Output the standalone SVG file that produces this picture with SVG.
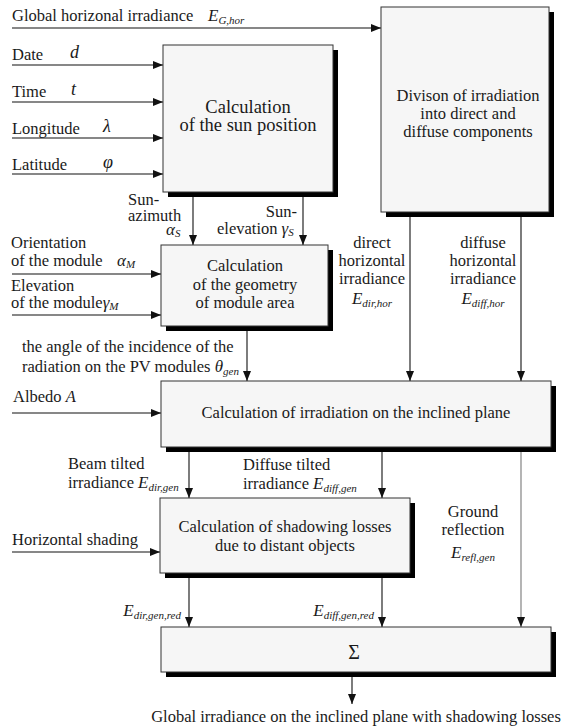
<svg xmlns="http://www.w3.org/2000/svg" width="566" height="728" viewBox="0 0 566 728">
<defs>
<marker id="ah" markerWidth="10" markerHeight="8" refX="10" refY="4" orient="auto" markerUnits="userSpaceOnUse">
<path d="M0,0 L10,4 L0,8 z" fill="#111"/>
</marker>
<style>
text{font-family:"Liberation Serif","Times New Roman",serif;fill:#1a1a1a;font-size:16.5px}
.c{text-anchor:middle}
.e{text-anchor:end}
.i{font-style:italic}
.big{font-size:18.5px}
.sub{font-size:11px;font-style:italic}
.box{fill:#f6f6f6;stroke:#333;stroke-width:1}
.sh{fill:#000}
.ln{stroke:#111;stroke-width:1.1;fill:none}
.gl{stroke:#777;stroke-width:1.1;fill:none}
</style>
</defs>
<rect width="566" height="728" fill="#fff"/>

<g id="connectors">
<line class="ln" x1="12" y1="28" x2="381" y2="28" marker-end="url(#ah)"/>
<line class="ln" x1="12" y1="65" x2="163" y2="65" marker-end="url(#ah)"/>
<line class="ln" x1="12" y1="102" x2="163" y2="102" marker-end="url(#ah)"/>
<line class="ln" x1="12" y1="138" x2="163" y2="138" marker-end="url(#ah)"/>
<line class="ln" x1="12" y1="174" x2="163" y2="174" marker-end="url(#ah)"/>
<line class="ln" x1="193" y1="197" x2="193" y2="245" marker-end="url(#ah)"/>
<line class="ln" x1="303" y1="197" x2="303" y2="245" marker-end="url(#ah)"/>
<line class="ln" x1="12" y1="274" x2="161" y2="274" marker-end="url(#ah)"/>
<line class="ln" x1="12" y1="315" x2="161" y2="315" marker-end="url(#ah)"/>
<line class="ln" x1="410" y1="217" x2="410" y2="381" marker-end="url(#ah)"/>
<line class="ln" x1="521" y1="217" x2="521" y2="381" marker-end="url(#ah)"/>
<line class="ln" x1="247" y1="331" x2="247" y2="381" marker-end="url(#ah)"/>
<line class="ln" x1="12" y1="413" x2="161" y2="413" marker-end="url(#ah)"/>
<line class="ln" x1="189" y1="452" x2="189" y2="498" marker-end="url(#ah)"/>
<line class="ln" x1="382" y1="452" x2="382" y2="498" marker-end="url(#ah)"/>
<line class="gl" x1="521" y1="452" x2="521" y2="627" marker-end="url(#ah)"/>
<line class="ln" x1="12" y1="552" x2="160" y2="552" marker-end="url(#ah)"/>
<line class="ln" x1="189" y1="578" x2="189" y2="627" marker-end="url(#ah)"/>
<line class="ln" x1="382" y1="578" x2="382" y2="627" marker-end="url(#ah)"/>
<line class="ln" x1="352" y1="677" x2="352" y2="704" marker-end="url(#ah)"/>
</g>

<g id="sun-position">
<rect class="sh" x="168" y="50" width="170" height="147"/>
<rect class="box" x="163" y="45" width="170" height="147"/>
<text class="c big" x="248" y="113">Calculation</text>
<text class="c big" x="248" y="131">of the sun position</text>
</g>

<g id="division">
<rect class="sh" x="386" y="12" width="168" height="205"/>
<rect class="box" x="381" y="7" width="168" height="205"/>
<text class="c" x="468" y="101">Divison of irradiation</text>
<text class="c" x="468" y="119">into direct and</text>
<text class="c" x="468" y="137">diffuse components</text>
</g>

<g id="geometry">
<rect class="sh" x="166" y="250" width="167" height="81"/>
<rect class="box" x="161" y="245" width="167" height="81"/>
<text class="c" x="245" y="271">Calculation</text>
<text class="c" x="245" y="290">of the geometry</text>
<text class="c" x="245" y="308">of module area</text>
</g>

<g id="inclined">
<rect class="sh" x="166" y="386" width="390" height="66"/>
<rect class="box" x="161" y="381" width="390" height="66"/>
<text class="c" x="356" y="418">Calculation of irradiation on the inclined plane</text>
</g>

<g id="shading">
<rect class="sh" x="165" y="503" width="250" height="75"/>
<rect class="box" x="160" y="498" width="250" height="75"/>
<text class="c" x="285" y="532">Calculation of shadowing losses</text>
<text class="c" x="285" y="551">due to distant objects</text>
</g>

<g id="sum">
<rect class="sh" x="166" y="632" width="390" height="45"/>
<rect class="box" x="161" y="627" width="390" height="45"/>
<text class="c" x="354" y="659" style="font-size:20px">Σ</text>
</g>

<g id="labels">
<text x="12" y="21">Global horizonal irradiance</text>
<text class="i" x="208" y="21" style="font-size:17px">E<tspan class="sub" dy="3">G,hor</tspan></text>
<text x="12" y="60">Date</text>
<text class="i" x="70" y="58" style="font-size:18px">d</text>
<text x="12" y="97">Time</text>
<text class="i" x="71" y="95" style="font-size:18px">t</text>
<text x="12" y="134">Longitude</text>
<text class="i" x="103" y="132" style="font-size:18px">λ</text>
<text x="12" y="170">Latitude</text>
<text class="i" x="103" y="168" style="font-size:18px">φ</text>

<text x="128" y="205">Sun-</text>
<text x="128" y="221">azimuth</text>
<text class="i" x="166" y="235" style="font-size:17px">α<tspan class="sub" dy="2">S</tspan></text>
<text class="e" x="297" y="217">Sun-</text>
<text x="217" y="234">elevation <tspan class="i" style="font-size:17px">γ</tspan><tspan class="sub" dy="2">S</tspan></text>

<text x="11" y="248">Orientation</text>
<text x="11" y="266">of the module</text>
<text class="i" x="117" y="266" style="font-size:17px">α<tspan class="sub" dy="2">M</tspan></text>
<text x="11" y="291">Elevation</text>
<text x="11" y="308">of the module<tspan class="i" style="font-size:17px">γ</tspan><tspan class="sub" dy="2">M</tspan></text>

<text class="c" x="372" y="248">direct</text>
<text class="c" x="372" y="266">horizontal</text>
<text class="c" x="372" y="284">irradiance</text>
<text class="c i" x="372" y="304" style="font-size:17px">E<tspan class="sub" dy="3">dir,hor</tspan></text>
<text class="c" x="483" y="248">diffuse</text>
<text class="c" x="483" y="266">horizontal</text>
<text class="c" x="483" y="284">irradiance</text>
<text class="c i" x="483" y="304" style="font-size:17px">E<tspan class="sub" dy="3">diff,hor</tspan></text>

<text x="22" y="352">the angle of the incidence of the</text>
<text x="22" y="372">radiation on the PV modules <tspan class="i" style="font-size:17px">θ</tspan><tspan class="sub" dy="3">gen</tspan></text>

<text x="13" y="402">Albedo <tspan class="i">A</tspan></text>

<text x="68" y="469">Beam tilted</text>
<text x="68" y="488">irradiance <tspan class="i" style="font-size:17px">E</tspan><tspan class="sub" dy="3">dir,gen</tspan></text>
<text x="243" y="470">Diffuse tilted</text>
<text x="243" y="489">irradiance  <tspan class="i" style="font-size:17px">E</tspan><tspan class="sub" dy="3">diff,gen</tspan></text>

<text x="12" y="545">Horizontal shading</text>

<text class="c" x="473" y="517">Ground</text>
<text class="c" x="473" y="535">reflection</text>
<text class="c i" x="473" y="558" style="font-size:17px">E<tspan class="sub" dy="3">refl,gen</tspan></text>

<text class="e i" x="181" y="616" style="font-size:17px">E<tspan class="sub" dy="3">dir,gen,red</tspan></text>
<text class="e i" x="374" y="616" style="font-size:17px">E<tspan class="sub" dy="3">diff,gen,red</tspan></text>

<text class="c" x="356" y="722">Global irradiance on the inclined plane with shadowing losses</text>
</g>
</svg>
